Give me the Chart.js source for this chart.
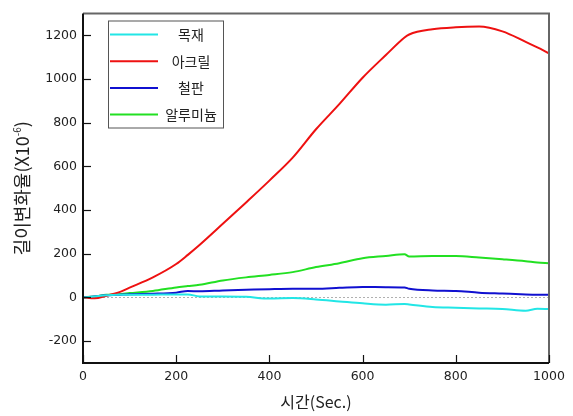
<!DOCTYPE html>
<html>
<head>
<meta charset="utf-8">
<script src="https://cdn.jsdelivr.net/npm/chart.js@4.4.1/dist/chart.umd.min.js"></script>
<style>
  html, body { margin: 0; padding: 0; background: #fff; }
  #wrap { width: 573px; height: 416px; }
</style>
</head>
<body>
<div id="wrap"><canvas id="chart" width="573" height="416"></canvas></div>
<script>
// time (sec)
const times = [0, 25, 50, 75, 100, 150, 200, 225, 250, 300, 350, 400, 450, 500, 550, 600, 650, 690, 700, 750, 800, 850, 900, 950, 975, 1000];

// length change ratio (x10^-6)
const wood     = [0, 5, 10, 12, 12, 13, 14, 14, 5, 5, 3, -5, -3, -9, -18, -27, -33, -30, -32, -44, -47, -50, -53, -61, -52, -53];
const acrylic  = [0, -4, 8, 22, 45, 92, 153, 195, 240, 337, 435, 535, 640, 770, 885, 1006, 1110, 1190, 1204, 1228, 1237, 1240, 1218, 1170, 1145, 1118];
const steel    = [0, 5, 10, 12, 15, 17, 22, 30, 28, 32, 35, 38, 40, 40, 44, 48, 47, 46, 40, 32, 30, 22, 18, 14, 13, 13];
const aluminum = [0, 5, 12, 15, 20, 30, 46, 52, 58, 78, 92, 103, 116, 139, 157, 180, 190, 198, 188, 190, 190, 183, 175, 166, 160, 157];

const seriesNames = ["목재", "아크릴", "철판", "알루미늄"];
const seriesColors = ["#22e6e6", "#ee1111", "#1010d0", "#22e022"];
const seriesData = [wood, acrylic, steel, aluminum];

const xTicks = [0, 200, 400, 600, 800, 1000];
const yTicks = [-200, 0, 200, 400, 600, 800, 1000, 1200];

const tickFont = { family: "'DejaVu Sans', sans-serif", size: 12.5 };
const korFont = "'Noto Sans CJK KR', sans-serif";

// frame, inward tick marks, y title with superscript, boxed legend
const decorations = {
  id: "decorations",
  afterDraw(chart) {
    const { ctx, chartArea: a, scales } = chart;
    ctx.save();
    // frame
    ctx.lineWidth = 2;
    ctx.strokeStyle = "#666";
    ctx.beginPath();
    ctx.moveTo(a.left, a.top);
    ctx.lineTo(a.right, a.top);
    ctx.lineTo(a.right, a.bottom);
    ctx.stroke();
    ctx.strokeStyle = "#111";
    ctx.beginPath();
    ctx.moveTo(a.left, a.top);
    ctx.lineTo(a.left, a.bottom);
    ctx.lineTo(a.right, a.bottom);
    ctx.stroke();
    // inward ticks
    ctx.lineWidth = 1.2;
    ctx.strokeStyle = "#111";
    yTicks.forEach((v) => {
      const y = Math.round(scales.y.getPixelForValue(v)) + 0.5;
      ctx.beginPath();
      ctx.moveTo(a.left, y);
      ctx.lineTo(a.left + 8, y);
      ctx.stroke();
    });
    xTicks.forEach((v) => {
      const x = Math.round(scales.x.getPixelForValue(v)) + 0.5;
      ctx.beginPath();
      ctx.moveTo(x, a.bottom);
      ctx.lineTo(x, a.bottom - 8);
      ctx.stroke();
    });

    // y title: 길이변화율(X10^-6)
    const base = "길이변화율(X10", sup = "-6", tail = ")";
    ctx.translate(22, (a.top + a.bottom) / 2);
    ctx.rotate(-Math.PI / 2);
    ctx.fillStyle = "#222";
    ctx.textBaseline = "middle";
    ctx.font = "18px " + korFont;
    const wBase = ctx.measureText(base).width;
    const wTail = ctx.measureText(tail).width;
    ctx.font = "10px " + korFont;
    const wSup = ctx.measureText(sup).width;
    let x0 = -(wBase + wSup + wTail) / 2;
    ctx.font = "18px " + korFont;
    ctx.textAlign = "left";
    ctx.fillText(base, x0, 0);
    ctx.font = "10px " + korFont;
    ctx.fillText(sup, x0 + wBase, -5);
    ctx.font = "18px " + korFont;
    ctx.fillText(tail, x0 + wBase + wSup, 0);
    ctx.setTransform(1, 0, 0, 1, 0, 0);

    // legend
    const lx = a.left + 25, ly = a.top + 7, lw = 115, lh = 107;
    ctx.fillStyle = "#fff";
    ctx.fillRect(lx, ly, lw, lh);
    ctx.lineWidth = 1;
    ctx.strokeStyle = "#555";
    ctx.strokeRect(lx + 0.5, ly + 0.5, lw, lh);
    ctx.font = "14px " + korFont;
    ctx.textAlign = "center";
    ctx.textBaseline = "middle";
    chart.data.datasets.forEach((ds, i) => {
      const y = ly + 14 + i * 26.7;
      ctx.strokeStyle = ds.borderColor;
      ctx.lineWidth = 2;
      ctx.beginPath();
      ctx.moveTo(lx + 2, y);
      ctx.lineTo(lx + 50, y);
      ctx.stroke();
      ctx.fillStyle = "#222";
      ctx.fillText(ds.label, lx + 83, y);
    });
    ctx.restore();
  }
};

new Chart(document.getElementById("chart"), {
  type: "line",
  data: {
    datasets: seriesNames.map((name, i) => ({
      label: name,
      data: times.map((t, j) => ({ x: t, y: seriesData[i][j] })),
      borderColor: seriesColors[i],
      backgroundColor: seriesColors[i],
      borderWidth: 2,
      pointRadius: 0,
      cubicInterpolationMode: "monotone",
      fill: false,
    })),
  },
  options: {
    responsive: false,
    animation: false,
    layout: { padding: { top: 8, right: 24, left: 0, bottom: 0 } },
    plugins: {
      legend: { display: false },
      tooltip: { enabled: false },
    },
    scales: {
      x: {
        type: "linear",
        min: 0,
        max: 1000,
        afterBuildTicks: (s) => { s.ticks = xTicks.map((v) => ({ value: v })); },
        afterFit: (s) => { s.height = 53; },
        grid: { display: false, drawTicks: false },
        border: { display: false },
        ticks: { color: "#222", font: tickFont, padding: 6, maxRotation: 0, callback: (v) => String(v) },
        title: { display: true, text: "시간(Sec.)", color: "#222", font: { family: korFont, size: 16 }, padding: { top: 4 } },
      },
      y: {
        type: "linear",
        min: -300,
        max: 1300,
        afterBuildTicks: (s) => { s.ticks = yTicks.map((v) => ({ value: v })); },
        afterFit: (s) => { s.width = 83; },
        grid: {
          drawTicks: false,
          color: (c) => (c.tick && c.tick.value === 0 ? "#b0b0b0" : "rgba(0,0,0,0)"),
          lineWidth: 1,
        },
        border: { display: false, dash: [2, 2] },
        ticks: { color: "#222", font: tickFont, padding: 6, callback: (v) => String(v) },
        title: { display: false },
      },
    },
  },
  plugins: [decorations],
});
</script>
</body>
</html>
